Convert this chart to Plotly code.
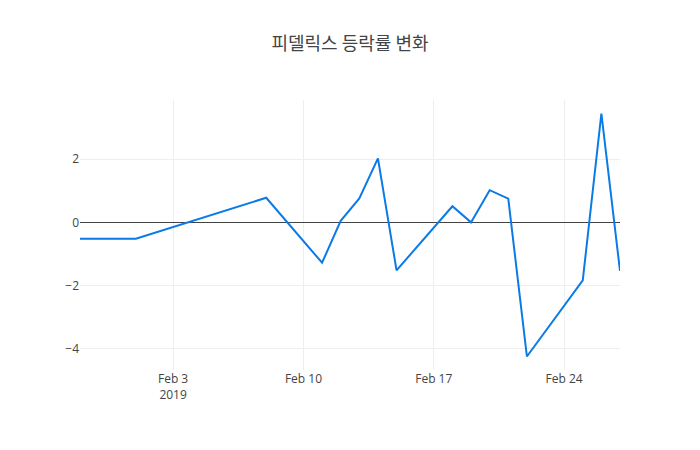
import plotly.graph_objects as go

# 피델릭스 일별 등락률 (%)
dates = ["2019-01-29", "2019-02-01", "2019-02-08", "2019-02-11", "2019-02-12",
         "2019-02-13", "2019-02-14", "2019-02-15", "2019-02-18", "2019-02-19",
         "2019-02-20", "2019-02-21", "2019-02-22", "2019-02-25", "2019-02-26",
         "2019-02-27"]
rates = [-0.52, -0.52, 0.78, -1.28, 0.05,
         0.76, 2.03, -1.52, 0.51, 0.0,
         1.02, 0.75, -4.25, -1.84, 3.45,
         -1.54]

fig = go.Figure()
fig.add_trace(go.Scatter(x=dates, y=rates, mode="lines",
                         line=dict(color="#0a7be6", width=2)))

# 페이지 body 여백(8px)을 감안해서 margin 조정
fig.update_layout(
    template="none",
    title=dict(text="피델릭스 등락률 변화", x=0.5, xref="paper",
               y=0.92, yref="container", yanchor="middle",
               font=dict(family="Noto Sans CJK KR", size=18, color="#444")),
    font=dict(family="Open Sans", color="#444"),
    width=700, height=450,
    margin=dict(l=72, r=88, t=92, b=88),
    showlegend=False,
    plot_bgcolor="white", paper_bgcolor="white",
)
fig.update_xaxes(showgrid=True, gridcolor="#eee", zeroline=False,
                 showline=False, ticks="")
fig.update_yaxes(showgrid=True, gridcolor="#eee", zeroline=True,
                 zerolinecolor="#444", zerolinewidth=1,
                 showline=False, ticks="", dtick=2)

fig.write_html("out.html")
